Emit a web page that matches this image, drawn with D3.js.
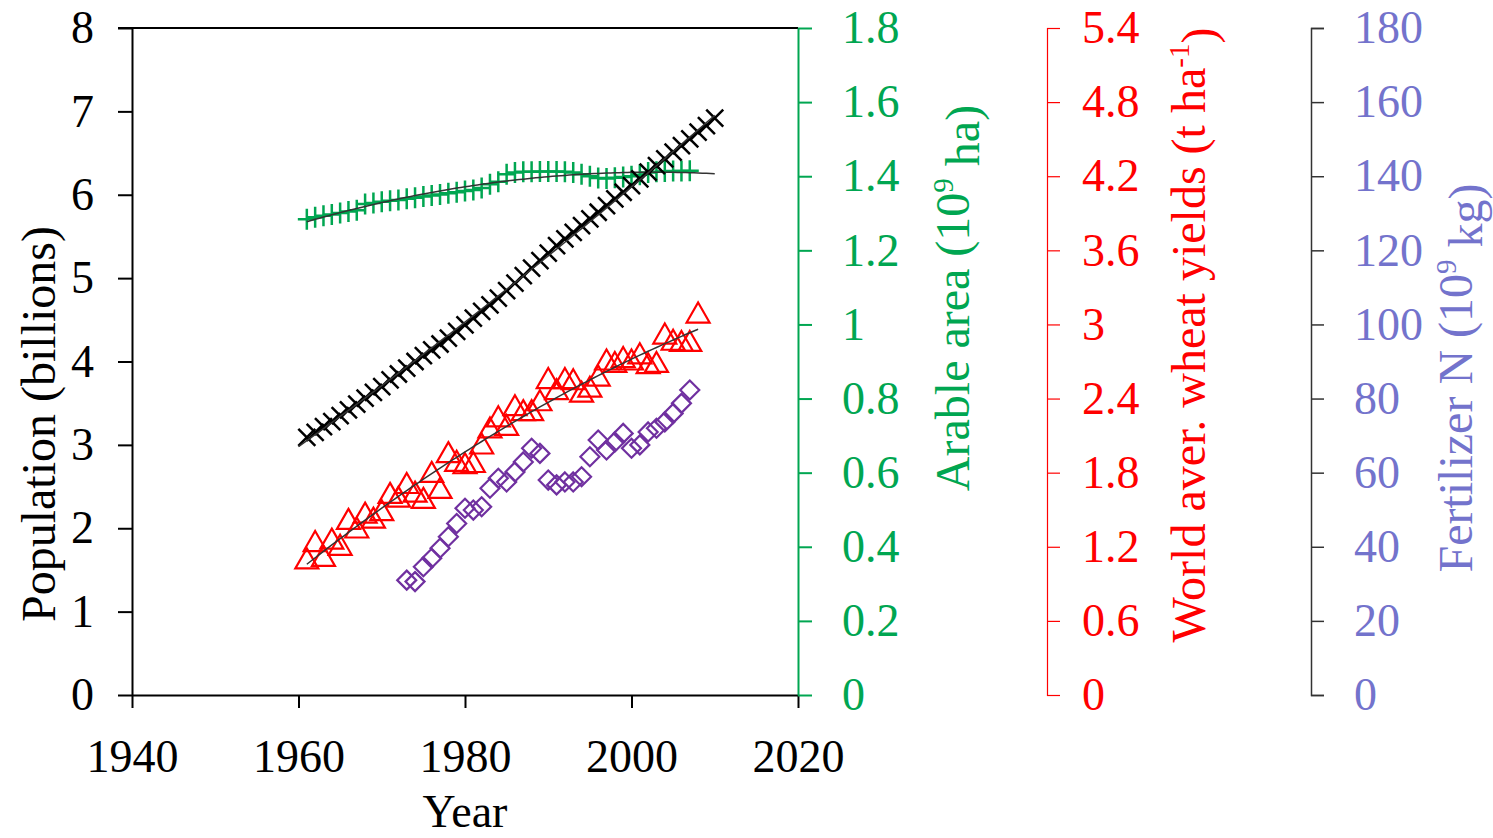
<!DOCTYPE html>
<html>
<head>
<meta charset="utf-8">
<script src="https://cdn.jsdelivr.net/npm/d3@7"></script>
<style>
  body { margin: 0; background: #fff; }
  svg text { font-family: "Liberation Serif", "Times New Roman", serif; }
</style>
</head>
<body>
<svg id="chart" width="1493" height="838"></svg>
<script>
// population (billions), 1961-2010
const popYears = d3.range(1961, 2011);
const popValues = [3.09, 3.15, 3.22, 3.28, 3.35, 3.42, 3.49, 3.56, 3.63, 3.70,
  3.78, 3.85, 3.92, 4.00, 4.07, 4.14, 4.21, 4.28, 4.36, 4.44,
  4.52, 4.60, 4.68, 4.76, 4.85, 4.94, 5.03, 5.12, 5.21, 5.30,
  5.39, 5.47, 5.55, 5.63, 5.71, 5.79, 5.87, 5.95, 6.03, 6.11,
  6.19, 6.27, 6.35, 6.43, 6.51, 6.59, 6.67, 6.75, 6.83, 6.92];

// arable area (10^9 ha), 1961-2007
const areaYears = d3.range(1961, 2008);
const areaValues = [1.284, 1.289, 1.293, 1.297, 1.301, 1.305, 1.308, 1.325, 1.328, 1.331,
  1.334, 1.336, 1.339, 1.342, 1.345, 1.348, 1.351, 1.354, 1.357, 1.360,
  1.363, 1.368, 1.378, 1.385, 1.405, 1.410, 1.412, 1.412, 1.413, 1.413,
  1.413, 1.412, 1.410, 1.405, 1.400, 1.395, 1.394, 1.396, 1.398, 1.400,
  1.404, 1.410, 1.412, 1.413, 1.414, 1.414, 1.415];

// world average wheat yields (t/ha), 1961-2008
const wheatYears = d3.range(1961, 2009);
const wheatValues = [1.09, 1.23, 1.11, 1.25, 1.20, 1.41, 1.34, 1.46, 1.42, 1.48,
  1.62, 1.59, 1.70, 1.63, 1.58, 1.79, 1.66, 1.95, 1.88, 1.86,
  1.87, 2.02, 2.15, 2.24, 2.17, 2.33, 2.29, 2.29, 2.37, 2.55,
  2.46, 2.55, 2.54, 2.44, 2.48, 2.57, 2.70, 2.68, 2.72, 2.70,
  2.75, 2.67, 2.68, 2.91, 2.86, 2.85, 2.85, 3.08];

// fertilizer N (10^9 kg), 1973-2007
const fertYears = d3.range(1973, 2008);
const fertValues = [31.0, 30.6, 34.6, 36.9, 39.6, 42.7, 46.3, 50.4, 49.9, 50.8,
  55.8, 58.5, 57.5, 60.2, 62.9, 66.6, 65.2, 58.0, 56.7, 57.5,
  57.5, 58.9, 64.3, 68.8, 66.1, 68.3, 70.6, 66.6, 67.5, 71.0,
  72.0, 73.7, 76.0, 78.7, 82.3];

const xTicks = [1940, 1960, 1980, 2000, 2020];
const popTicks = [0, 1, 2, 3, 4, 5, 6, 7, 8];
const areaTicks = [0, 0.2, 0.4, 0.6, 0.8, 1, 1.2, 1.4, 1.6, 1.8];
const wheatTicks = [0, 0.6, 1.2, 1.8, 2.4, 3, 3.6, 4.2, 4.8, 5.4];
const fertTicks = [0, 20, 40, 60, 80, 100, 120, 140, 160, 180];

const green = "#00A651";
const red = "#FF0000";
const purple = "#7030A0";
const blue = "#7373CC";

// least squares polynomial fit, x centred for stability
const polyfit = (xs, ys, deg) => {
  const m = d3.mean(xs);
  const n = deg + 1;
  const A = d3.range(n).map(() => new Array(n + 1).fill(0));
  xs.forEach((xv, k) => {
    const t = xv - m;
    for (let i = 0; i < n; i++) {
      for (let j = 0; j < n; j++) A[i][j] += Math.pow(t, i + j);
      A[i][n] += Math.pow(t, i) * ys[k];
    }
  });
  for (let i = 0; i < n; i++) {
    let p = i;
    for (let r = i + 1; r < n; r++) if (Math.abs(A[r][i]) > Math.abs(A[p][i])) p = r;
    [A[i], A[p]] = [A[p], A[i]];
    for (let r = 0; r < n; r++) {
      if (r === i) continue;
      const f = A[r][i] / A[i][i];
      for (let c = i; c <= n; c++) A[r][c] -= f * A[i][c];
    }
  }
  const coef = A.map((row, i) => row[n] / row[i]);
  return (xv) => coef.reduce((s, c, i) => s + c * Math.pow(xv - m, i), 0);
};

const svg = d3.select("#chart");
const plotLeft = 132, plotRight = 798, plotTop = 28, plotBottom = 695;

const x = d3.scaleLinear().domain([1940, 2020]).range([plotLeft, plotRight]);
const yPop = d3.scaleLinear().domain([0, 8]).range([plotBottom, plotTop]);
const yArea = d3.scaleLinear().domain([0, 1.8]).range([plotBottom, plotTop]);
const yWheat = d3.scaleLinear().domain([0, 5.4]).range([plotBottom, plotTop]);
const yFert = d3.scaleLinear().domain([0, 180]).range([plotBottom, plotTop]);

const styleAxis = (g, color, width, size) => {
  g.select(".domain").attr("stroke", color).attr("stroke-width", width);
  g.selectAll(".tick line").attr("stroke", color).attr("stroke-width", width);
  g.selectAll(".tick text").attr("fill", color)
    .style("font-size", size + "px")
    .style("font-family", '"Liberation Serif", "Times New Roman", serif');
};

// top border
svg.append("line")
  .attr("x1", plotLeft - 14).attr("x2", plotRight)
  .attr("y1", plotTop).attr("y2", plotTop)
  .attr("stroke", "#000").attr("stroke-width", 2);

const gx = svg.append("g")
  .attr("transform", `translate(0,${plotBottom})`)
  .call(d3.axisBottom(x).tickValues(xTicks).tickFormat(d3.format("d"))
    .tickSize(13).tickSizeOuter(0).tickPadding(31));
styleAxis(gx, "#000", 2, 46);

const gPop = svg.append("g")
  .attr("transform", `translate(${plotLeft},0)`)
  .call(d3.axisLeft(yPop).tickValues(popTicks).tickSize(14).tickSizeOuter(0).tickPadding(24));
styleAxis(gPop, "#000", 2, 46);

const gArea = svg.append("g")
  .attr("transform", `translate(${plotRight},0)`)
  .call(d3.axisRight(yArea).tickValues(areaTicks).tickFormat(d3.format("~g"))
    .tickSize(14).tickSizeOuter(0).tickPadding(30));
styleAxis(gArea, green, 2, 46);

const gWheat = svg.append("g")
  .attr("transform", `translate(1047,0)`)
  .call(d3.axisRight(yWheat).tickValues(wheatTicks).tickFormat(d3.format("~g"))
    .tickSize(13).tickSizeOuter(13).tickPadding(22));
styleAxis(gWheat, red, 1.2, 46);

const gFert = svg.append("g")
  .attr("transform", `translate(1311,0)`)
  .call(d3.axisRight(yFert).tickValues(fertTicks)
    .tickSize(13).tickSizeOuter(13).tickPadding(30));
styleAxis(gFert, "#333", 1.5, 46);
gFert.selectAll(".tick text").attr("fill", blue);

// trend lines
const trend = (years, values, deg, from, to, yScale) => {
  const f = polyfit(years, values, deg);
  const pts = d3.range(from, to + 0.01, 0.5);
  svg.append("path")
    .attr("d", d3.line().x((d) => x(d)).y((d) => yScale(f(d)))(pts))
    .attr("fill", "none").attr("stroke", "#333").attr("stroke-width", 1.5);
};

// markers
const shapes = {
  cross: "M-8.5,-8.5L8.5,8.5M-8.5,8.5L8.5,-8.5",
  plus: "M-9,0L9,0M0,-10.5L0,10.5",
  triangle: "M0,-12L11.5,8L-11.5,8Z",
  diamond: "M0,-9.5L9.5,0L0,9.5L-9.5,0Z",
};
const markers = (years, values, yScale, shape, color, width) => {
  svg.append("g")
    .selectAll("path")
    .data(years.map((yr, i) => [yr, values[i]]))
    .join("path")
    .attr("d", shapes[shape])
    .attr("transform", (d) => `translate(${x(d[0])},${yScale(d[1])})`)
    .attr("fill", "none").attr("stroke", color).attr("stroke-width", width);
};

markers(fertYears, fertValues, yFert, "diamond", purple, 2.2);
markers(wheatYears, wheatValues, yWheat, "triangle", red, 2.2);
trend(wheatYears, wheatValues, 2, 1961, 2008, yWheat);
markers(areaYears, areaValues, yArea, "plus", green, 2.5);
trend(areaYears, areaValues, 2, 1961, 2010, yArea);
markers(popYears, popValues, yPop, "cross", "#000", 2.5);
trend(popYears, popValues, 2, 1960, 2010, yPop);

// axis titles
const vTitle = (cx, cy, color, parts) => {
  const t = svg.append("text")
    .attr("transform", `translate(${cx},${cy}) rotate(-90)`)
    .attr("text-anchor", "middle")
    .attr("fill", color)
    .style("font-size", "48px");
  parts.forEach(([str, sup], i) => {
    if (sup) {
      t.append("tspan").attr("dy", "-0.55em").style("font-size", "29px").text(str);
    } else {
      t.append("tspan").attr("dy", i ? "0.55em" : 0).text(str);
    }
  });
};

svg.append("text")
  .attr("x", x(1980)).attr("y", 827)
  .attr("text-anchor", "middle")
  .style("font-size", "46px")
  .text("Year");

vTitle(55, 424, "#000", [["Population (billions)"]]);
vTitle(969, 298, green, [["Arable area (10"], ["9", true], [" ha)"]]);
vTitle(1205, 335, red, [["World aver. wheat yields (t ha"], ["-1", true], [")"]]);
vTitle(1472, 378, blue, [["Fertilizer N (10"], ["9", true], [" kg)"]]);
</script>
</body>
</html>
